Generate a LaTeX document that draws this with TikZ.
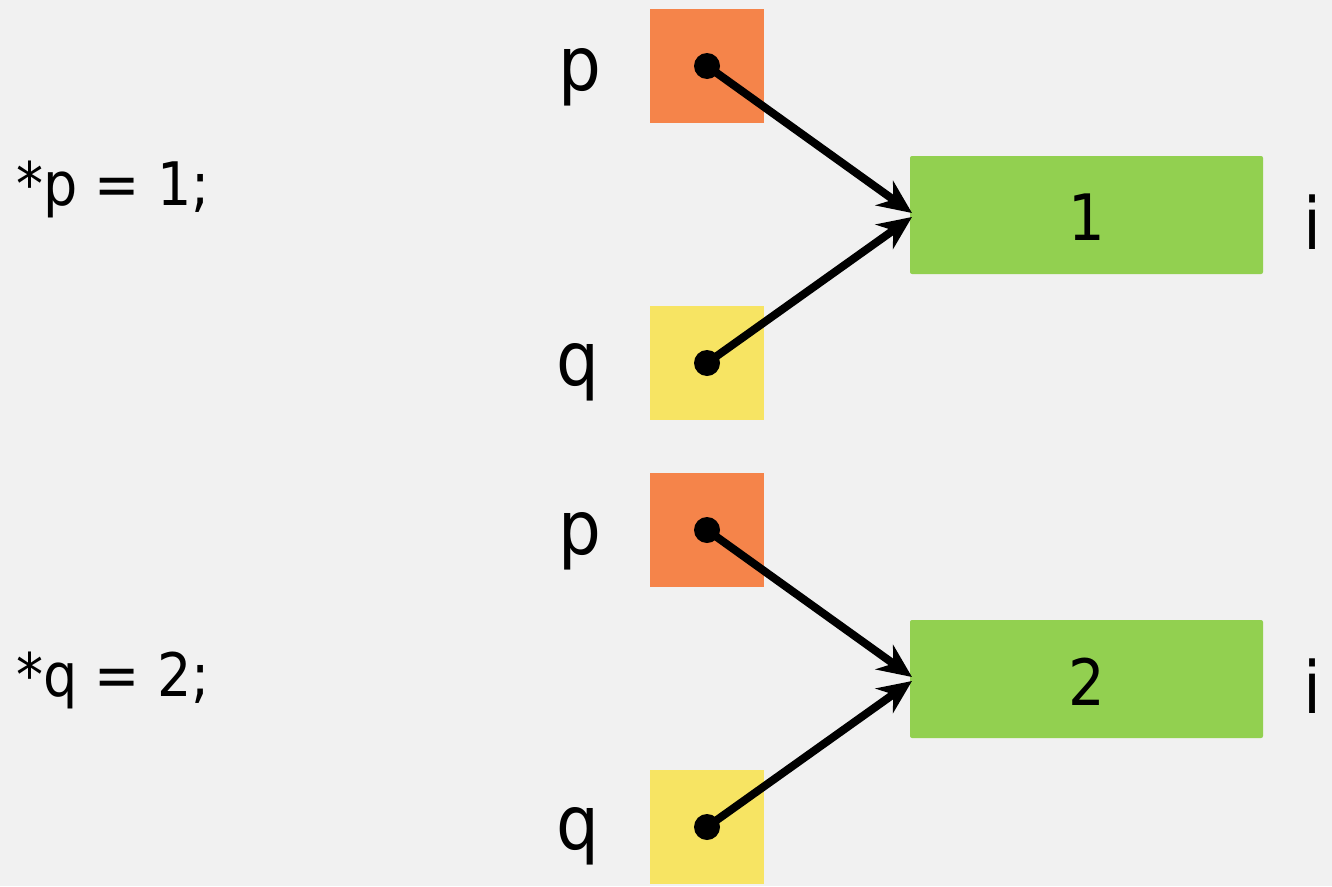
\documentclass[tikz,border=0pt]{standalone}
\usepackage{fontspec}
\setmainfont{DejaVu Sans}[FakeStretch=0.9]
\usetikzlibrary{arrows.meta}
\definecolor{bgc}{HTML}{F1F1F1}
\definecolor{orangec}{HTML}{F5844A}
\definecolor{greenc}{HTML}{92D050}
\definecolor{yellowc}{HTML}{F7E463}
\tikzset{
  ptrbox/.style={minimum width=114pt, minimum height=114pt, inner sep=0pt, draw=none},
  valbox/.style={fill=greenc, rounded corners=2pt, minimum width=353pt, minimum height=118pt, inner sep=0pt, draw=none},
  lbl/.style={anchor=base, inner sep=0pt, font=\fontsize{75}{80}\selectfont},
  ilbl/.style={anchor=base, inner sep=0pt, font=\fontsize{72}{80}\selectfont},
  vallbl/.style={anchor=base, inner sep=0pt, font=\fontsize{64}{70}\selectfont},
  code/.style={anchor=base west, inner sep=0pt, font=\fontsize{60}{66}\selectfont},
  dot/.style={circle, fill=black, minimum size=26pt, inner sep=0pt},
  pointer/.style={draw=black, line width=8pt, -{Stealth[length=34pt, width=30pt, inset=11pt]}}
}
\begin{document}
\begin{tikzpicture}[x=1pt, y=-1pt]
\fill[bgc] (0,0) rectangle (1332,886);
\useasboundingbox (0,0) rectangle (1332,886);
% group 1
\node[ptrbox, fill=orangec] (p1) at (707,66) {};
\node[ptrbox, fill=yellowc] (q1) at (707,363) {};
\node[valbox] (g1) at (1086.5,215) {};
\node[lbl] (pl1) at (580,90) {p};
\node[lbl] (ql1) at (578,385) {q};
\node[ilbl] (il1) at (1312,249) {i};
\node[vallbl] (v1) at (1087,240) {1};
\node[code] (c1) at (16,205) {*p = 1;};
\coordinate (t1a) at (912,213);
\coordinate (t1b) at (912,217);
\path[pointer] (p1.center) -- (t1a);
\path[pointer] (q1.center) -- (t1b);
\node[dot] (d1p) at (p1.center) {};
\node[dot] (d1q) at (q1.center) {};
% group 2
\node[ptrbox, fill=orangec] (p2) at (707,530) {};
\node[ptrbox, fill=yellowc] (q2) at (707,827) {};
\node[valbox] (g2) at (1086.5,679) {};
\node[lbl] (pl2) at (580,554) {p};
\node[lbl] (ql2) at (578,849) {q};
\node[ilbl] (il2) at (1312,713) {i};
\node[vallbl] (v2) at (1087,705) {2};
\node[code] (c2) at (16,696) {*q = 2;};
\coordinate (t2a) at (912,677);
\coordinate (t2b) at (912,681);
\path[pointer] (p2.center) -- (t2a);
\path[pointer] (q2.center) -- (t2b);
\node[dot] (d2p) at (p2.center) {};
\node[dot] (d2q) at (q2.center) {};
\end{tikzpicture}
\end{document}
